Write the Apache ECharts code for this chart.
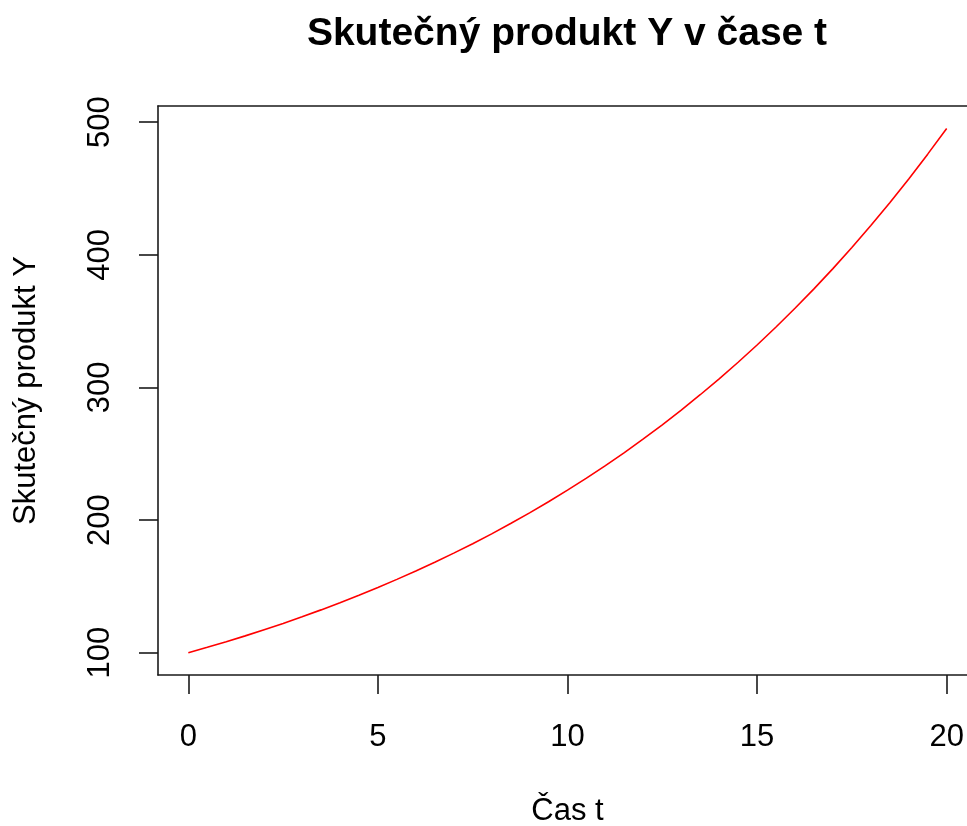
<!DOCTYPE html>
<html>
<head>
<meta charset="utf-8">
<script src="https://cdn.jsdelivr.net/npm/echarts@6/dist/echarts.min.js"></script>
<style>html,body{margin:0;padding:0;background:#fff;}#c{width:967px;height:826px;}</style>
</head>
<body>
<div id="c"></div>
<script>
// Data (time t, product Y)
var tValues = [0,0.5,1,1.5,2,2.5,3,3.5,4,4.5,5,5.5,6,6.5,7,7.5,8,8.5,9,9.5,10,10.5,11,11.5,12,12.5,13,13.5,14,14.5,15,15.5,16,16.5,17,17.5,18,18.5,19,19.5,20];
var yValues = [100,104.1,108.3,112.7,117.4,122.1,127.1,132.3,137.7,143.3,149.2,155.3,161.6,168.2,175.1,182.2,189.6,197.4,205.4,213.8,222.6,231.6,241.1,250.9,261.2,271.8,282.9,294.5,306.5,319.0,332.0,345.6,359.7,374.3,389.6,405.5,422.1,439.3,457.2,475.9,495.3];
var xTicks = [0,5,10,15,20];
var yTicks = [100,200,300,400,500];
var titleText = 'Skutečný produkt Y v čase t';
var xName = 'Čas t';
var yName = 'Skutečný produkt Y';

var FONT = '"Liberation Sans", Arial, sans-serif';
var seriesData = tValues.map(function(t,i){return [t, yValues[i]];});
var frame = {color:'#1a1a1a', width:1.6};

var chart = echarts.init(document.getElementById('c'), null, {renderer:'canvas'});
chart.setOption({
  animation:false,
  backgroundColor:'#ffffff',
  grid:{left:158, top:106, width:819, height:569, show:false, containLabel:false, outerBoundsMode:'none'},
  graphic:[{type:'text', x:567, y:34, style:{text:titleText, font:'bold 39px '+FONT, fill:'#000', textAlign:'center', textVerticalAlign:'middle'}}],
  xAxis:[{type:'value', min:-0.8, max:20.8, position:'bottom',
    axisLine:{show:true, onZero:false, lineStyle:frame}, splitLine:{show:false},
    axisTick:{show:true, customValues:xTicks, length:19, lineStyle:frame},
    axisLabel:{customValues:xTicks, fontSize:31, fontFamily:FONT, color:'#000', margin:47},
    name:xName, nameLocation:'middle', nameGap:121, nameTextStyle:{fontSize:31, fontFamily:FONT, color:'#000'}
  },{type:'value', min:-0.8, max:20.8, position:'top',
    axisLine:{show:true, onZero:false, lineStyle:frame}, splitLine:{show:false},
    axisTick:{show:false}, axisLabel:{show:false}
  }],
  yAxis:{type:'value', min:83.2, max:512.2,
    axisLine:{show:true, onZero:false, lineStyle:frame}, splitLine:{show:false},
    axisTick:{show:true, customValues:yTicks, length:19, lineStyle:frame},
    axisLabel:{customValues:yTicks, fontSize:31, fontFamily:FONT, color:'#000', margin:42, rotate:90},
    name:yName, nameLocation:'middle', nameGap:116, nameRotate:90, nameTextStyle:{fontSize:31, fontFamily:FONT, color:'#000'}
  },
  series:[{type:'line', xAxisIndex:0, data:seriesData, showSymbol:false, smooth:false, clip:false,
    lineStyle:{color:'#ff0000', width:1.6}}]
});
</script>
</body>
</html>
